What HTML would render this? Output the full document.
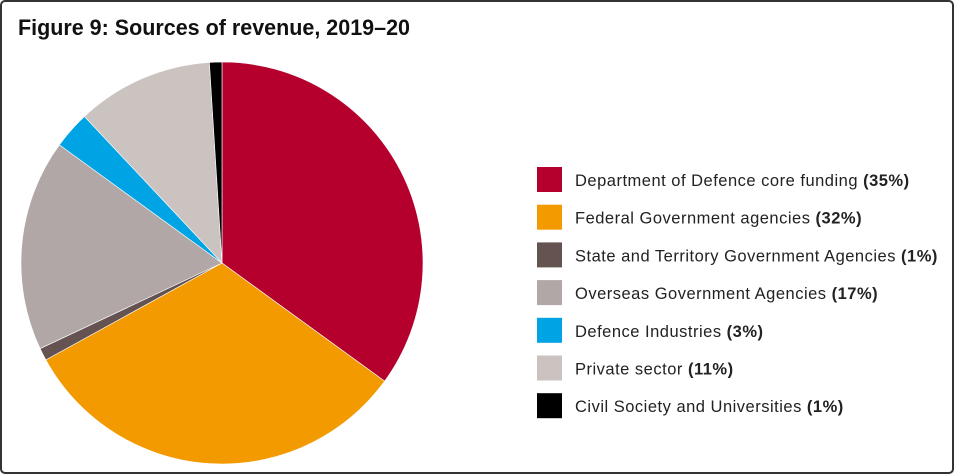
<!DOCTYPE html>
<html><head><meta charset="utf-8"><style>
html,body{margin:0;padding:0;background:#fff}
svg{display:block;font-family:"Liberation Sans",sans-serif}
</style></head><body>
<svg id="chart" width="955" height="475" viewBox="0 0 955 475">
<rect x="1" y="1" width="952" height="472" rx="4" fill="#fff" stroke="#333" stroke-width="2"/>
<text x="18" y="35" font-size="22" font-weight="bold" fill="#111" textLength="392" lengthAdjust="spacingAndGlyphs">Figure 9: Sources of revenue, 2019–20</text>
<g id="slices"></g>
<g id="legend"></g>
</svg>
<script>
const labels = ["Department of Defence core funding","Federal Government agencies","State and Territory Government Agencies","Overseas Government Agencies","Defence Industries","Private sector","Civil Society and Universities"];
const values = [35, 32, 1, 17, 3, 11, 1];
const colors = ["#b5002e","#f29a00","#655352","#b1a7a6","#00a3e3","#cbc3c0","#000000"];
const NS = "http://www.w3.org/2000/svg";
const cx = 222, cy = 263, r = 201;
const total = values.reduce((a,b)=>a+b,0);
const pt = a => [cx + r*Math.sin(a), cy - r*Math.cos(a)];
let acc = 0;
const gS = document.getElementById('slices');
values.forEach((v,i)=>{
  const a0 = acc/total*2*Math.PI; acc += v; const a1 = acc/total*2*Math.PI;
  const [x0,y0]=pt(a0),[x1,y1]=pt(a1);
  const p = document.createElementNS(NS,'path');
  p.setAttribute('d',`M${cx},${cy}L${x0},${y0}A${r},${r} 0 ${a1-a0>Math.PI?1:0} 1 ${x1},${y1}Z`);
  p.setAttribute('fill',colors[i]);
  p.setAttribute('stroke','#fff');
  p.setAttribute('stroke-width','0.6');
  
  
  gS.appendChild(p);
});
const gL = document.getElementById('legend');
labels.forEach((l,i)=>{
  const y = 167 + i*37.7;
  const s = document.createElementNS(NS,'rect');
  s.setAttribute('x',537); s.setAttribute('y',y); s.setAttribute('width',25); s.setAttribute('height',25);
  s.setAttribute('fill',colors[i]);
  
  
  gL.appendChild(s);
  const t = document.createElementNS(NS,'text');
  t.setAttribute('x',575); t.setAttribute('y',y+19);
  t.setAttribute('font-size','16.5'); t.setAttribute('fill','#222');
  t.setAttribute('letter-spacing','0.5');
  
  
  t.appendChild(document.createTextNode(l+' '));
  const b = document.createElementNS(NS,'tspan');
  b.setAttribute('font-weight','bold');
  b.textContent='('+values[i]+'%)';
  t.appendChild(b);
  gL.appendChild(t);
});
</script>
</body></html>
